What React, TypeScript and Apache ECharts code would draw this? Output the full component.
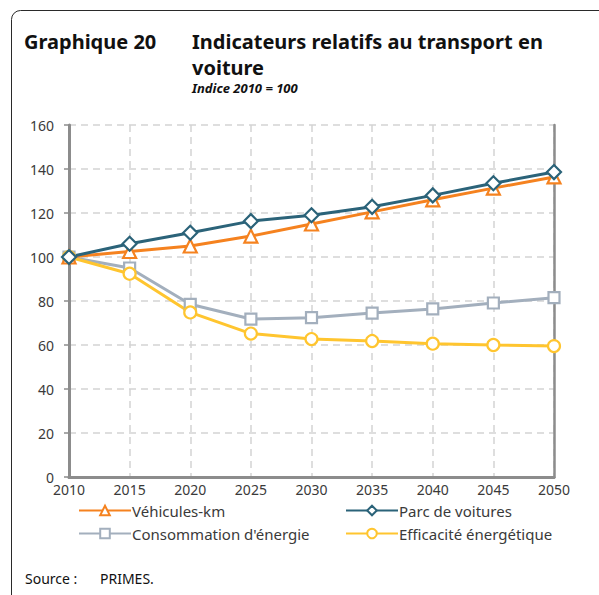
import React, { useEffect, useRef } from "react";
import * as echarts from "echarts";

const years = ["2010", "2015", "2020", "2025", "2030", "2035", "2040", "2045", "2050"];
const vehiculesKm = [100, 102.5, 105, 109.5, 115, 120.5, 126, 131.3, 136.4];
const parcVoitures = [100, 106, 111, 116.3, 119, 122.8, 128, 133.5, 138.6];
const consommation = [100, 95, 78.5, 71.8, 72.4, 74.5, 76.4, 79.1, 81.5];
const efficacite = [100, 92.4, 74.8, 65.2, 62.7, 61.8, 60.6, 60, 59.5];

const FONT = "'Noto Sans', 'DejaVu Sans', sans-serif";
const TXT = "#3a3a3a";
const AXIS = "#8c8c8c";

export default function App() {
  const ref = useRef<HTMLDivElement>(null);
  useEffect(() => {
    if (!ref.current) return;
    const chart = echarts.init(ref.current, undefined, { renderer: "svg" });
    const mk = (name: string, data: number[], color: string, symbol: string, size: number) => ({
      name,
      type: "line",
      data,
      color,
      symbol,
      symbolSize: size,
      showAllSymbol: true,
      lineStyle: { color, width: 3 },
      itemStyle: { color: "#ffffff", borderColor: color, borderWidth: 2.2 },
      z: 3,
    });
    const legendText = { fontFamily: FONT, fontSize: 15, color: TXT, padding: [0, 0, 0, -4] };
    chart.setOption({
      animation: false,
      textStyle: { fontFamily: FONT },
      graphic: [
        {
          type: "rect",
          shape: { x: 11.5, y: 10.5, width: 600, height: 620, r: 9 },
          style: { fill: "none", stroke: "#2a2a2a", lineWidth: 1 },
          silent: true,
        },
        {
          type: "text",
          left: 24,
          top: 31,
          style: { text: "Graphique 20", font: `bold 20px ${FONT}`, lineHeight: 20, fill: "#111" },
        },
        {
          type: "text",
          left: 192,
          top: 31,
          style: {
            text: "Indicateurs relatifs au transport en",
            font: `bold 20px ${FONT}`,
            lineHeight: 20,
            fill: "#111",
          },
        },
        {
          type: "text",
          left: 192,
          top: 57,
          style: { text: "voiture", font: `bold 20px ${FONT}`, lineHeight: 20, fill: "#111" },
        },
        {
          type: "text",
          left: 192,
          top: 81,
          style: { text: "Indice 2010 = 100", font: `italic bold 13px ${FONT}`, lineHeight: 14, fill: "#111" },
        },
        {
          type: "text",
          left: 25,
          top: 571,
          style: { text: "Source :", font: `14px ${FONT}`, fill: "#111" },
        },
        {
          type: "text",
          left: 100,
          top: 571,
          style: { text: "PRIMES.", font: `14px ${FONT}`, fill: "#111" },
        },
      ],
      grid: {
        left: 69,
        right: 45,
        top: 125,
        bottom: 118,
      },
      legend: [
        {
          orient: "vertical",
          left: 78,
          top: 503,
          padding: 0,
          itemWidth: 52,
          itemHeight: 12,
          itemGap: 8,
          data: ["Véhicules-km", "Consommation d'énergie"],
          textStyle: legendText,
        },
        {
          orient: "vertical",
          left: 345,
          top: 503,
          padding: 0,
          itemWidth: 52,
          itemHeight: 12,
          itemGap: 8,
          data: ["Parc de voitures", "Efficacité énergétique"],
          textStyle: legendText,
        },
      ],
      xAxis: [
        {
          type: "category",
          data: years,
          boundaryGap: false,
          axisLine: { lineStyle: { color: AXIS, width: 3 } },
          axisTick: { show: false },
          axisLabel: { color: TXT, fontSize: 14, margin: 5, fontFamily: FONT },
          splitLine: { show: true, lineStyle: { color: "#d4d4d4", type: [7, 5], width: 1.5 } },
        },
        {
          type: "category",
          data: years,
          position: "top",
          boundaryGap: false,
          axisLine: { show: true, lineStyle: { color: AXIS, width: 2.5 } },
          axisTick: { show: false },
          axisLabel: { show: false },
          splitLine: { show: false },
        },
      ],
      yAxis: [
        {
          type: "value",
          min: 0,
          max: 160,
          interval: 20,
          axisLine: { show: true, lineStyle: { color: AXIS, width: 3 } },
          axisTick: { show: true, length: 5, lineStyle: { color: AXIS, width: 1.5 } },
          axisLabel: { color: TXT, fontSize: 14, margin: 15, fontFamily: FONT },
          splitLine: { show: true, lineStyle: { color: "#d4d4d4", type: [7, 5], width: 1.5 } },
        },
        {
          type: "value",
          min: 0,
          max: 160,
          interval: 20,
          position: "right",
          axisLine: { show: true, lineStyle: { color: AXIS, width: 2.5 } },
          axisTick: { show: false },
          axisLabel: { show: false },
          splitLine: { show: false },
        },
      ],
      series: [
        mk("Consommation d'énergie", consommation, "#a3afbd", "rect", 11),
        mk("Efficacité énergétique", efficacite, "#ffc52f", "circle", 12),
        mk("Véhicules-km", vehiculesKm, "#f5821f", "triangle", 13),
        mk("Parc de voitures", parcVoitures, "#2b6379", "diamond", 14),
      ],
    });
    return () => chart.dispose();
  }, []);
  return (
    <div
      ref={ref}
      style={{ position: "fixed", left: 0, top: 0, width: 599, height: 595, background: "#fff" }}
    />
  );
}
